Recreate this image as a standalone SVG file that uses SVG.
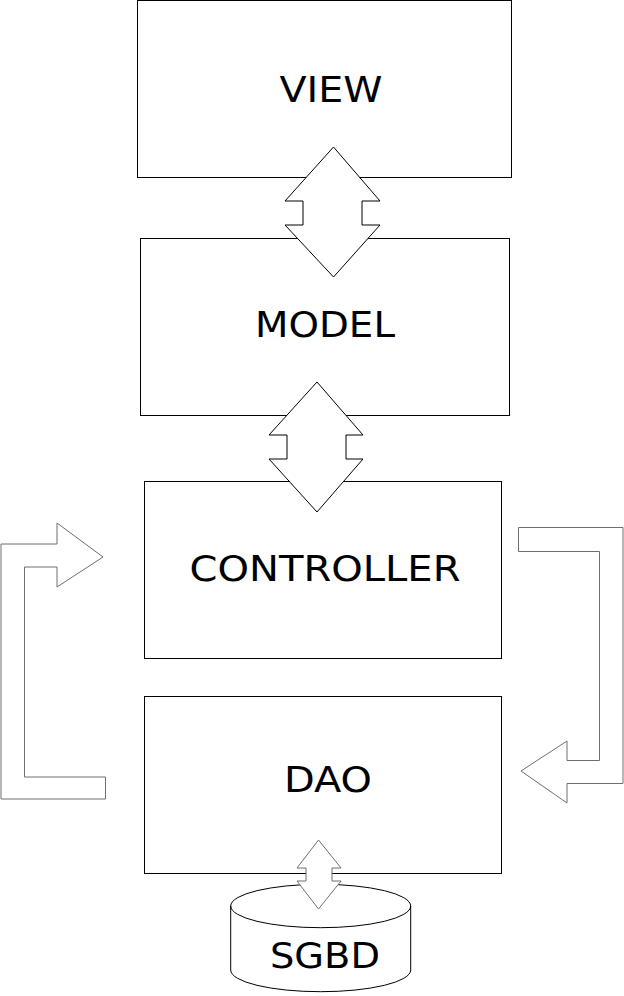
<svg xmlns="http://www.w3.org/2000/svg" width="624" height="996" viewBox="0 0 624 996">
<style>
.box{fill:#fff;stroke:#000;stroke-width:1}
.dbl{fill:#fff;stroke:#000;stroke-width:1;stroke-linejoin:miter}
.flow{fill:#fff;stroke:#6e6e6e;stroke-width:1}
.lbl{font-family:"DejaVu Sans",Verdana,sans-serif;font-size:36px;fill:#000;text-anchor:middle}
</style>
<rect width="624" height="996" fill="#fff"/>
<g id="view"><rect class="box" x="137.5" y="0.5" width="374" height="177"/><text class="lbl" x="331" y="102" textLength="103" lengthAdjust="spacingAndGlyphs">VIEW</text></g>
<g id="model"><rect class="box" x="140.5" y="238.5" width="369" height="177"/><text class="lbl" x="325" y="337" textLength="140" lengthAdjust="spacingAndGlyphs">MODEL</text></g>
<g id="controller"><rect class="box" x="144.5" y="481.5" width="357" height="177"/><text class="lbl" x="325" y="581" textLength="271" lengthAdjust="spacingAndGlyphs">CONTROLLER</text></g>
<g id="dao"><rect class="box" x="144.5" y="696.5" width="357" height="177"/><text class="lbl" x="328" y="792" textLength="88" lengthAdjust="spacingAndGlyphs">DAO</text></g>
<g id="sgbd">
<path class="box" d="M230.7,906 A90,21.7 0 0 1 410.7,906 L410.7,970 A90,21.7 0 0 1 230.7,970 Z"/>
<path fill="none" stroke="#000" d="M230.7,906 A90,21.7 0 0 0 410.7,906"/>
<text class="lbl" x="325" y="968" textLength="110" lengthAdjust="spacingAndGlyphs">SGBD</text>
</g>
<g id="connectors">
<polygon class="dbl" points="333.5,147 380,201 362,201 362,225 380,225 333.5,277 285,225 303,225 303,201 285,201"/>
<polygon class="dbl" points="317,382 363,435 346,435 346,459 363,459 317,512 269,459 287,459 287,435 269,435"/>
<polygon class="flow" points="318.5,840 341,868 332,868 332,881 341,881 318.5,909 297,881 306,881 306,868 297,868"/>
<polygon class="flow" points="1,544 57,544 57,523 103,557 57,587 57,567 24.5,567 24.5,777 105.5,777 105.5,799 1,799"/>
<polygon class="flow" points="518.5,527.5 623,527.5 623,783.5 567,783.5 567,803 521,771 567,741 567,760.5 599.5,760.5 599.5,551.5 518.5,551.5"/>
</g>
</svg>
